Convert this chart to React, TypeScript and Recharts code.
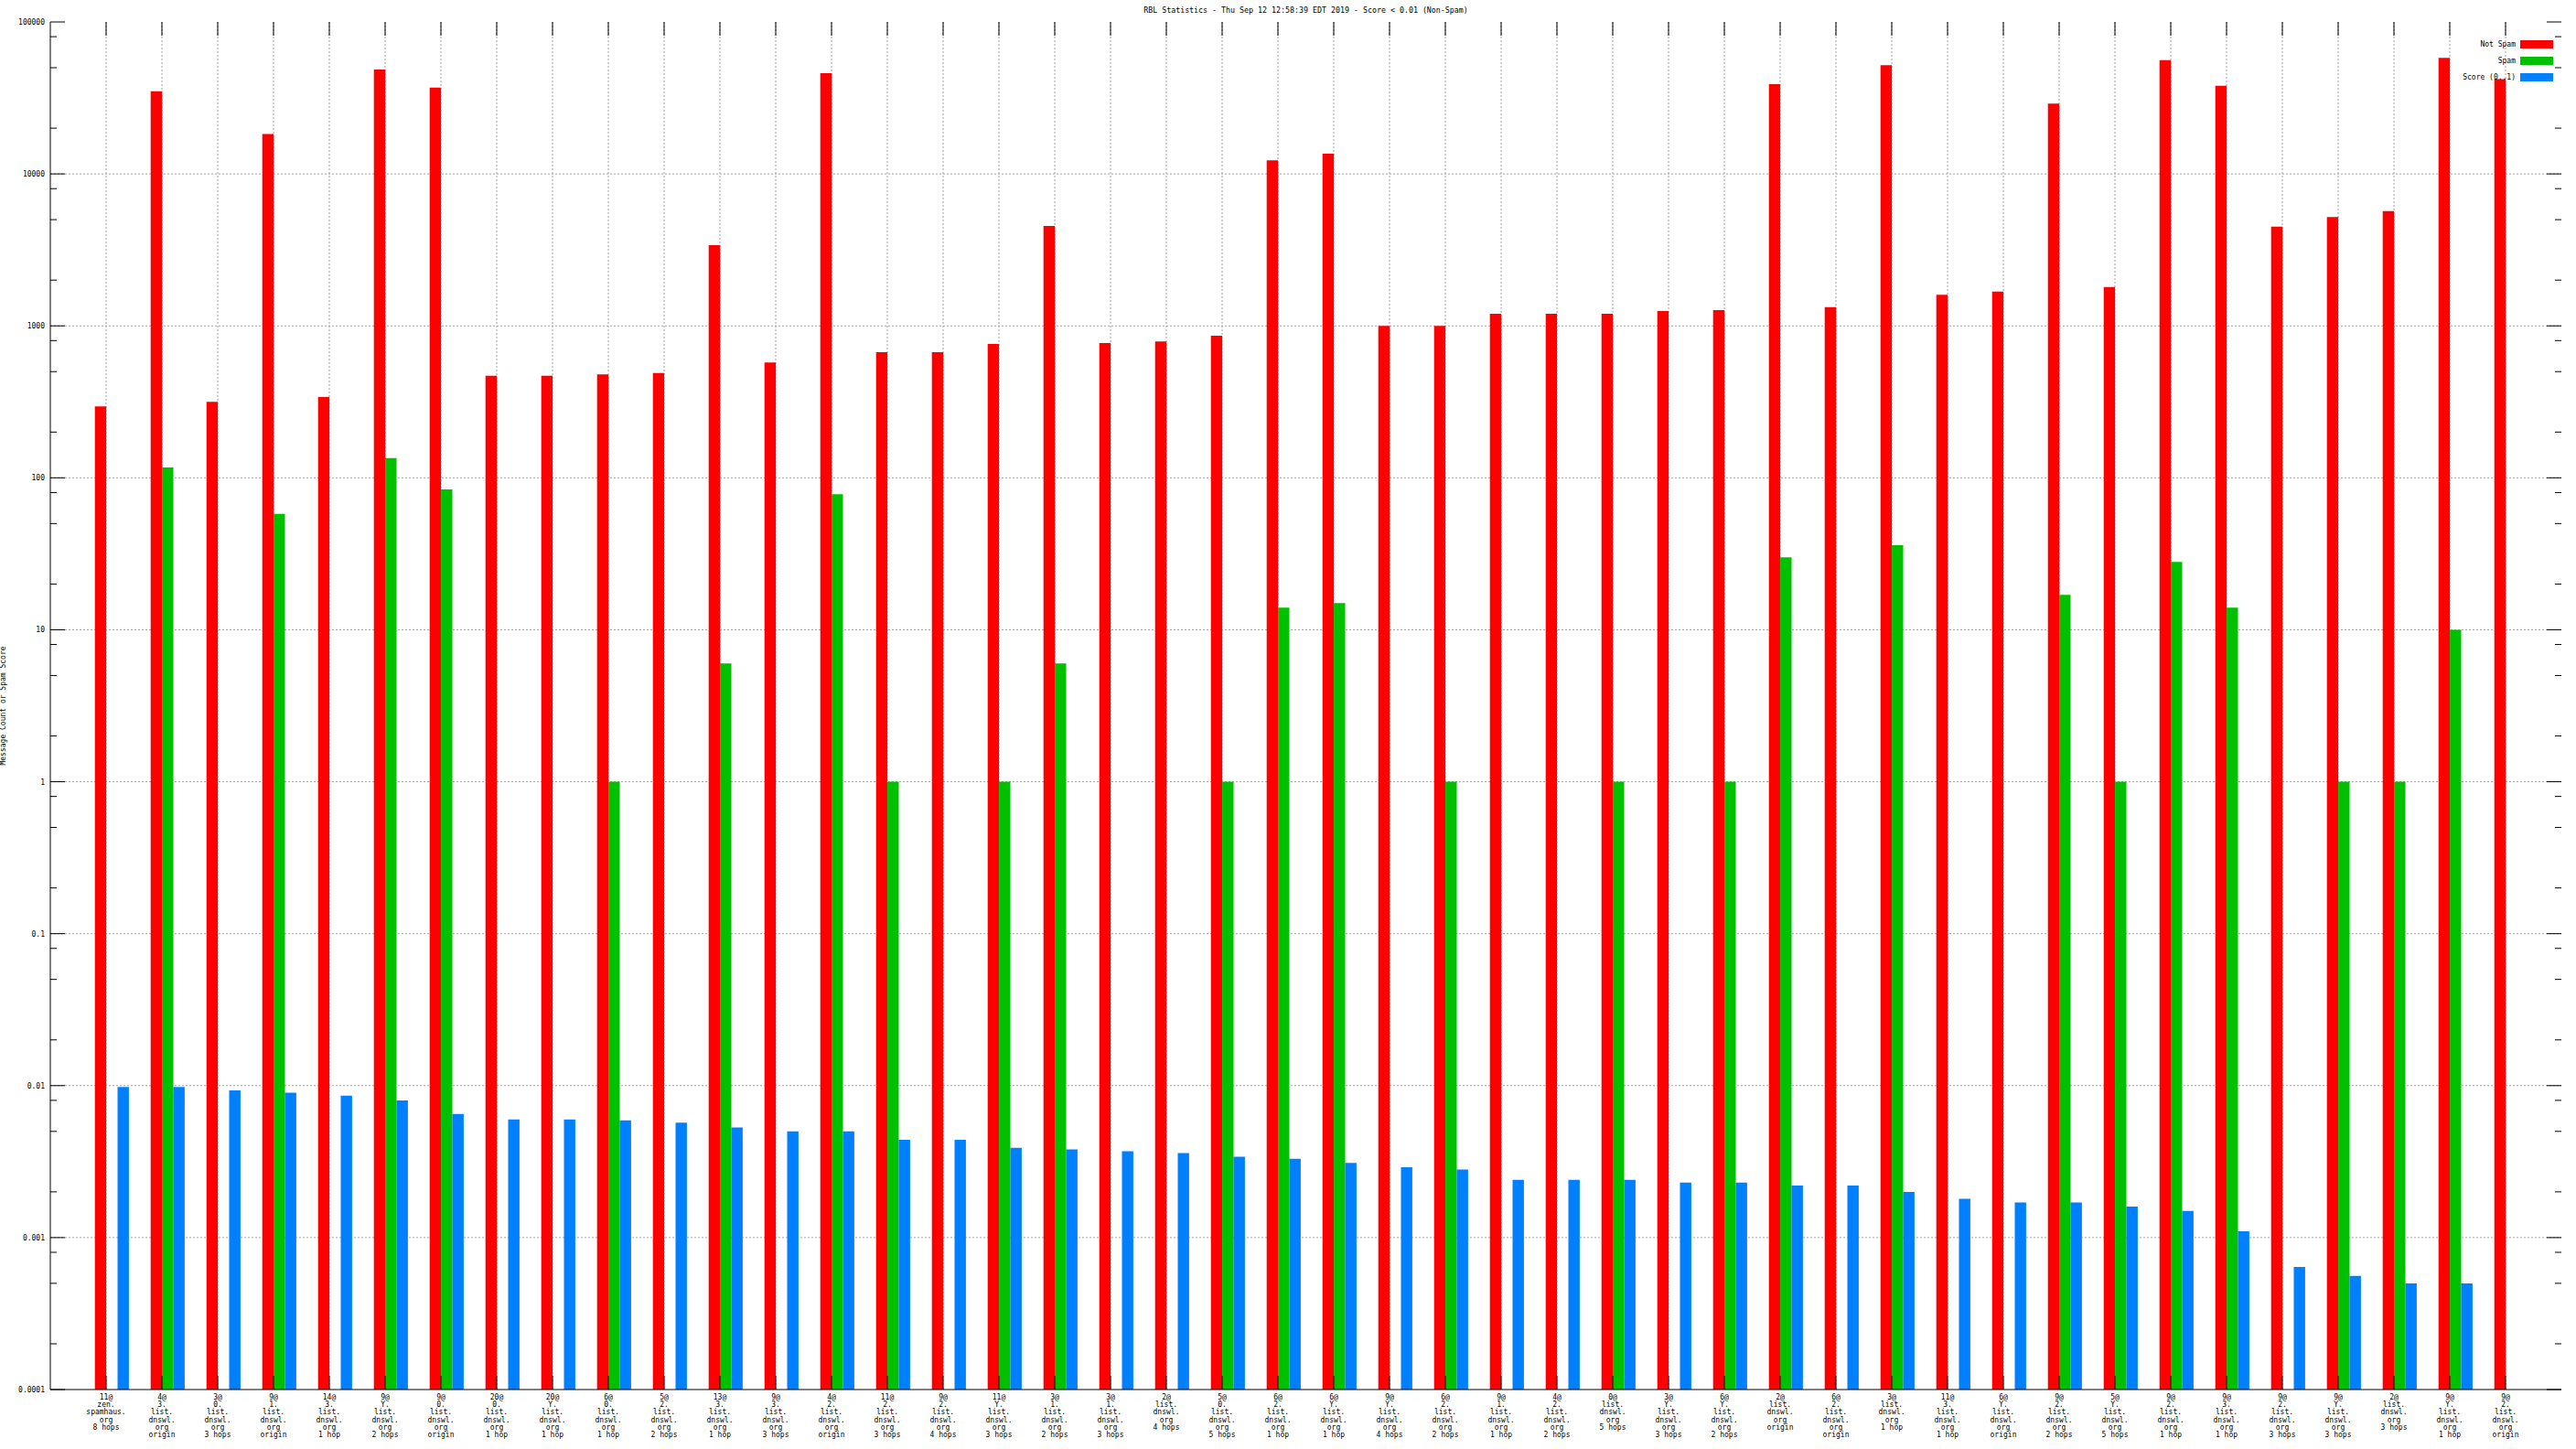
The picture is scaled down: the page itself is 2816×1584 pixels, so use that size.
import React from 'react';
import { BarChart, Bar, XAxis, YAxis, CartesianGrid, Legend } from 'recharts';

// x categories, one per RBL/hop combination ("|" = line break in the tick label)
const categories = [
  '11@|zen.|spamhaus.|org|8 hops', '4@|3.|list.|dnswl.|org|origin', '3@|0.|list.|dnswl.|org|3 hops',
  '9@|1.|list.|dnswl.|org|origin', '14@|3.|list.|dnswl.|org|1 hop', '9@|Y.|list.|dnswl.|org|2 hops',
  '9@|0.|list.|dnswl.|org|origin', '20@|0.|list.|dnswl.|org|1 hop', '20@|Y.|list.|dnswl.|org|1 hop',
  '6@|0.|list.|dnswl.|org|1 hop', '5@|2.|list.|dnswl.|org|2 hops', '13@|3.|list.|dnswl.|org|1 hop',
  '9@|3.|list.|dnswl.|org|3 hops', '4@|2.|list.|dnswl.|org|origin', '11@|2.|list.|dnswl.|org|3 hops',
  '9@|2.|list.|dnswl.|org|4 hops', '11@|Y.|list.|dnswl.|org|3 hops', '3@|1.|list.|dnswl.|org|2 hops',
  '3@|1.|list.|dnswl.|org|3 hops', '2@|list.|dnswl.|org|4 hops', '5@|0.|list.|dnswl.|org|5 hops',
  '6@|2.|list.|dnswl.|org|1 hop', '6@|Y.|list.|dnswl.|org|1 hop', '9@|Y.|list.|dnswl.|org|4 hops',
  '6@|2.|list.|dnswl.|org|2 hops', '9@|1.|list.|dnswl.|org|1 hop', '4@|2.|list.|dnswl.|org|2 hops',
  '0@|list.|dnswl.|org|5 hops', '3@|Y.|list.|dnswl.|org|3 hops', '6@|Y.|list.|dnswl.|org|2 hops',
  '2@|list.|dnswl.|org|origin', '6@|2.|list.|dnswl.|org|origin', '3@|list.|dnswl.|org|1 hop',
  '11@|3.|list.|dnswl.|org|1 hop', '6@|Y.|list.|dnswl.|org|origin', '9@|2.|list.|dnswl.|org|2 hops',
  '5@|Y.|list.|dnswl.|org|5 hops', '9@|2.|list.|dnswl.|org|1 hop', '9@|3.|list.|dnswl.|org|1 hop',
  '9@|2.|list.|dnswl.|org|3 hops', '9@|Y.|list.|dnswl.|org|3 hops', '2@|list.|dnswl.|org|3 hops',
  '9@|Y.|list.|dnswl.|org|1 hop', '9@|2.|list.|dnswl.|org|origin',
];

const notSpam = [
  295, 35000, 316, 18300, 340, 48700, 37000, 470, 470, 480, 490, 3400, 575, 46000, 670, 670, 760,
  4550, 770, 790, 860, 12300, 13600, 1000, 1000, 1200, 1200, 1200, 1250, 1270, 39000, 1330, 52000,
  1600, 1680, 29000, 1800, 56000, 38000, 4500, 5200, 5700, 58000, 42000,
];

const spam = [
  null, 117, null, 58, null, 135, 84, null, null, 1, null, 6, null, 78, 1, null, 1, 6, null, null, 1,
  14, 15, null, 1, null, null, 1, null, 1, 30, null, 36, null, null, 17, 1, 28, 14, null, 1, 1, 10, null,
];

const score = [
  0.0098, 0.0098, 0.0093, 0.009, 0.0086, 0.008, 0.0065, 0.006, 0.006, 0.0059, 0.0057, 0.0053, 0.005,
  0.005, 0.0044, 0.0044, 0.0039, 0.0038, 0.0037, 0.0036, 0.0034, 0.0033, 0.0031, 0.0029, 0.0028,
  0.0024, 0.0024, 0.0024, 0.0023, 0.0023, 0.0022, 0.0022, 0.002, 0.0018, 0.0017, 0.0017, 0.0016,
  0.0015, 0.0011, 0.00064, 0.00056, 0.0005, 0.0005, null,
];

const majorTicks = [0.0001, 0.001, 0.01, 0.1, 1, 10, 100, 1000, 10000, 100000];
const majorLabels = ['0.0001', '0.001', '0.01', '0.1', '1', '10', '100', '1000', '10000', '100000'];

const data = categories.map((c, i) => ({
  label: c,
  notSpam: notSpam[i],
  spam: spam[i],
  score: score[i],
}));

// layout (gnuplot-like frame)
const W = 2816;
const H = 1584;
const LEFT = 55;
const RIGHT = 2800;
const TOP = 24;
const BOTTOM = 1519;
const BAND = 61;
const TICK_SHIFT = 6.2; // category tick sits at red/green boundary, not cluster centre
const FONT = '"DejaVu Sans Mono", monospace';

const allYTicks: number[] = [];
majorTicks.forEach((m, i) => {
  allYTicks.push(m);
  if (i < majorTicks.length - 1) [2, 5, 8].forEach((k) => allYTicks.push(m * k));
});

const logY = (v: number) => TOP + ((5 - Math.log10(v)) / 9) * (BOTTOM - TOP);
const gridH = majorTicks.slice(1, -1).map(logY);
const gridV = categories.map((_, i) => LEFT + BAND * (i + 1));

const YTick = (props: any) => {
  const { y, payload } = props;
  const v = payload.value;
  const idx = majorTicks.findIndex((m) => Math.abs(m - v) / m < 1e-6);
  const len = idx >= 0 ? 16 : 7;
  return (
    <g>
      <line x1={LEFT} x2={LEFT + len} y1={y} y2={y} stroke="#000" />
      <line x1={RIGHT} x2={RIGHT - len} y1={y} y2={y} stroke="#000" />
      {idx >= 0 && (
        <text x={49} y={y + 3} textAnchor="end" fontSize={8} fontFamily={FONT} fill="#000">
          {majorLabels[idx]}
        </text>
      )}
    </g>
  );
};

const XTick = (props: any) => {
  const { x, payload } = props;
  const cx = x - TICK_SHIFT;
  const lines = String(payload.value).split('|');
  return (
    <g>
      <line x1={cx} x2={cx} y1={TOP} y2={TOP + 15} stroke="#000" />
      <line x1={cx} x2={cx} y1={BOTTOM} y2={BOTTOM - 15} stroke="#000" />
      {lines.map((t, k) => (
        <text key={k} x={cx} y={BOTTOM + 11 + k * 8.2} textAnchor="middle" fontSize={8} fontFamily={FONT} fill="#000">
          {t}
        </text>
      ))}
    </g>
  );
};

const legendItems = [
  { name: 'Not Spam', color: '#ff0000' },
  { name: 'Spam', color: '#00c000' },
  { name: 'Score (0..1)', color: '#0080ff' },
];

const LegendBox = () => (
  <div style={{ fontFamily: FONT, fontSize: 8 }}>
    {legendItems.map((it) => (
      <div key={it.name} style={{ display: 'flex', justifyContent: 'flex-end', alignItems: 'center', height: 18.3 }}>
        <span>{it.name}</span>
        <span style={{ display: 'inline-block', width: 36, height: 9, marginLeft: 5, background: it.color }} />
      </div>
    ))}
  </div>
);

export default function App() {
  return (
    <div style={{ position: 'absolute', left: 0, top: 0, width: W, height: H, background: '#fff' }}>
      <div
        style={{
          position: 'absolute', left: LEFT, width: RIGHT - LEFT, top: 6, textAlign: 'center',
          fontFamily: FONT, fontSize: 8.3, lineHeight: '10px', color: '#000',
        }}
      >
        RBL Statistics - Thu Sep 12 12:58:39 EDT 2019 - Score &lt; 0.01 (Non-Spam)
      </div>
      <BarChart
        width={W}
        height={H}
        data={data}
        margin={{ top: TOP, right: W - RIGHT, bottom: 0, left: 0 }}
        barGap={0}
        barSize={12.4}
      >
        <CartesianGrid
          stroke="#a0a0a0"
          strokeDasharray="2 2"
          horizontalPoints={gridH}
          verticalPoints={gridV}
        />
        <XAxis
          dataKey="label"
          type="category"
          height={H - BOTTOM}
          interval={0}
          padding={{ left: 36.7, right: 24.3 }}
          tickLine={false}
          axisLine={{ stroke: '#000' }}
          tick={<XTick />}
        />
        <XAxis xAxisId="top" dataKey="label" orientation="top" height={0} tick={false} tickLine={false} axisLine={{ stroke: '#000' }} />
        <YAxis
          yAxisId="l"
          scale="log"
          domain={[0.0001, 100000]}
          allowDataOverflow
          ticks={allYTicks}
          interval={0}
          width={LEFT}
          tickLine={false}
          axisLine={{ stroke: '#000' }}
          tick={<YTick />}
          label={{
            value: 'Message Count or Spam Score', angle: -90, position: 'insideLeft', offset: 3,
            style: { fontFamily: FONT, fontSize: 8, fill: '#000', textAnchor: 'middle' },
          }}
        />
        <YAxis
          yAxisId="r"
          orientation="right"
          scale="log"
          domain={[0.0001, 100000]}
          allowDataOverflow
          width={0}
          tick={false}
          tickLine={false}
          axisLine={{ stroke: '#000' }}
        />
        <Legend
          layout="vertical"
          align="center"
          verticalAlign="middle"
          wrapperStyle={{ top: 39, right: W - 2791, left: 'auto', width: 'auto' }}
          content={<LegendBox />}
        />
        <Bar yAxisId="l" dataKey="notSpam" name="Not Spam" fill="#ff0000" isAnimationActive={false} />
        <Bar yAxisId="l" dataKey="spam" name="Spam" fill="#00c000" isAnimationActive={false} />
        <Bar yAxisId="l" dataKey="score" name="Score (0..1)" fill="#0080ff" isAnimationActive={false} />
      </BarChart>
    </div>
  );
}
